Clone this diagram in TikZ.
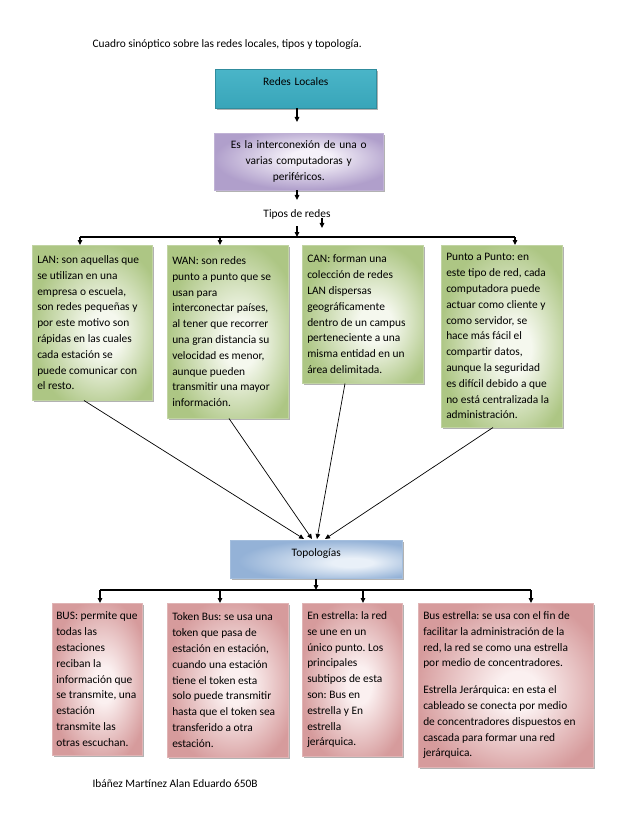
\documentclass[tikz,border=0pt]{standalone}
\usepackage{fontspec}
\setmainfont{Carlito}
\usetikzlibrary{shadows,arrows.meta,calc}
\definecolor{tealA}{HTML}{4AB5C8}
\definecolor{tealB}{HTML}{38A5B9}
\definecolor{purL}{HTML}{F5F1F9}
\definecolor{purD}{HTML}{B09FCB}
\definecolor{grnL}{HTML}{F5F8EE}
\definecolor{grnD}{HTML}{ADC684}
\definecolor{bluL}{HTML}{E9F0F8}
\definecolor{bluD}{HTML}{94B2D7}
\definecolor{redL}{HTML}{FBF0F0}
\definecolor{redD}{HTML}{D69B9C}
\pgfdeclareradialshading{grnsh}{\pgfpoint{6bp}{-4bp}}{color(0bp)=(grnL); color(7bp)=(grnL); color(28bp)=(grnD); color(50bp)=(grnD)}
\pgfdeclareradialshading{redsh}{\pgfpoint{4bp}{-2bp}}{color(0bp)=(redL); color(6bp)=(redL); color(28bp)=(redD); color(50bp)=(redD)}
\pgfdeclareradialshading{blush}{\pgfpoint{12bp}{-5bp}}{color(0bp)=(bluL); color(6bp)=(bluL); color(28bp)=(bluD); color(50bp)=(bluD)}
\pgfdeclareradialshading{pursh}{\pgfpoint{4bp}{5bp}}{color(0bp)=(purL); color(6bp)=(purL); color(27bp)=(purD); color(50bp)=(purD)}
\newcommand\fl[2]{\makebox[#1][l]{#2}}
\tikzset{
  txt/.style={font=\fontsize{11.4}{15.8}\selectfont\frenchspacing},
  box/.style={txt, anchor=north west, inner xsep=5pt, inner ysep=0pt,
    drop shadow={shadow xshift=1.5pt,shadow yshift=-2pt,opacity=0.3,fill=black}},
  tealbox/.style={box, top color=tealA, bottom color=tealB, draw=tealB!85!black, line width=0.5pt},
  purbox/.style={box, shade, shading=pursh, draw=purD!80!white, line width=0.5pt},
  grnbox/.style={box, shade, shading=grnsh, align=left, draw=grnD!75!white, line width=0.5pt},
  redbox/.style={box, shade, shading=redsh, align=left, draw=redD!75!white, line width=0.5pt},
  blubox/.style={box, shade, shading=blush, draw=bluD!85!white, line width=0.5pt},
  conn/.style={line width=1.1pt, -{Triangle[length=5pt,width=4.5pt]}},
  plain/.style={line width=1.1pt},
  diag/.style={line width=0.7pt, -{Triangle[length=5pt,width=4.5pt]}}
}
\begin{document}
\begin{tikzpicture}[x=1pt,y=-1pt]
\fill[white] (0,0) rectangle (638,826);
\useasboundingbox (0,0) rectangle (638,826);

\node[txt,anchor=west] (title) at (89,45) {Cuadro sinóptico sobre las redes locales, tipos y topología.};

\node[tealbox,align=center,text width=151pt,minimum height=39pt,text height=12pt,text depth=19pt,inner ysep=4pt] (redes) at (215,69) {Redes Locales};

\node[purbox,align=center,text width=159pt,minimum height=57pt] (def) at (214,133) {Es la interconexión de una o\\varias computadoras y\\periféricos.};

\node[txt] (tipos) at (297,214) {Tipos de redes};

% green boxes
\node[grnbox,minimum width=120pt,minimum height=155pt] (lan) at (32,245) {\fl{110pt}{LAN: son aquellas que}\\se utilizan en una\\empresa o escuela,\\son redes pequeñas y\\por este motivo son\\rápidas en las cuales\\cada estación se\\puede comunicar con\\el resto.};
\node[grnbox,minimum width=121pt,minimum height=173pt] (wan) at (167,245) {\fl{111pt}{WAN: son redes}\\punto a punto que se\\usan para\\interconectar países,\\al tener que recorrer\\una gran distancia su\\velocidad es menor,\\aunque pueden\\transmitir una mayor\\información.};
\node[grnbox,minimum width=121pt,minimum height=138pt] (can) at (302,245) {\fl{111pt}{CAN: forman una}\\colección de redes\\LAN dispersas\\geográficamente\\dentro de un campus\\perteneciente a una\\misma entidad en un\\área delimitada.};
\node[grnbox,minimum width=121pt,minimum height=182pt] (pap) at (441,245) {\fl{111pt}{Punto a Punto: en}\\este tipo de red, cada\\computadora puede\\actuar como cliente y\\como servidor, se\\hace más fácil el\\compartir datos,\\aunque la seguridad\\es difícil debido a que\\no está centralizada la\\administración.};

\node[blubox,align=center,text width=162pt,minimum height=38pt,text height=12pt,text depth=18pt,inner ysep=4pt] (topo) at (230,540) {Topologías};

% red boxes
\node[redbox,inner xsep=4pt,minimum width=90pt,minimum height=152pt] (bus) at (52,603) {\fl{82pt}{BUS: permite que}\\todas las\\estaciones\\reciban la\\información que\\se transmite, una\\estación\\transmite las\\otras escuchan.};
\node[redbox,minimum width=121pt,minimum height=154pt] (tok) at (167,603) {\fl{111pt}{Token Bus: se usa una}\\token que pasa de\\estación en estación,\\cuando una estación\\tiene el token esta\\solo puede transmitir\\hasta que el token sea\\transferido a otra\\estación.};
\node[redbox,minimum width=100pt,minimum height=153pt] (est) at (302,603) {\fl{90pt}{En estrella: la red}\\se une en un\\único punto. Los\\principales\\subtipos de esta\\son: Bus en\\estrella y En\\estrella\\jerárquica.};
\node[redbox,minimum width=175pt,minimum height=164pt] (bes) at (418,603) {\fl{165pt}{Bus estrella: se usa con el fin de}\\facilitar la administración de la\\red, la red se como una estrella\\por medio de concentradores.\\[11pt]Estrella Jerárquica: en esta el\\cableado se conecta por medio\\de concentradores dispuestos en\\cascada para formar una red\\jerárquica.};

\node[txt,anchor=west] (foot) at (89,784) {Ibáñez Martínez Alan Eduardo 650B};

% top connectors
\coordinate (r1) at (297,122);
\draw[conn] (r1 |- redes.south) -- (r1);
\coordinate (d1) at (297,200);
\draw[conn] (d1 |- def.south) -- (d1);
\coordinate (hC) at (297,237);
\coordinate (hL) at (80,237);
\coordinate (hW) at (220,237);
\coordinate (hR) at (515,237);
\draw[conn] ($(tipos.south)+(0,4)$) -- (hC);
\coordinate (s1) at (322,218);
\coordinate (s2) at (322,228);
\draw[conn] (s1) -- (s2);
\draw[plain] (hL) -- (hR);
\draw[conn] (hL) -- (lan.north -| hL);
\draw[conn] (hW) -- (wan.north -| hW);
\draw[conn] (hR) -- (pap.north -| hR);

% diagonals to Topologias
\draw[diag] ($(lan.south west)+(52,0)$) -- ($(topo.north west)+(74,-1)$);
\draw[diag] ($(wan.south west)+(62,0)$) -- ($(topo.north west)+(82,-1)$);
\draw[diag] ($(can.south west)+(43,0)$) -- ($(topo.north west)+(87,-1)$);
\draw[diag] ($(pap.south west)+(52,0)$) -- ($(topo.north west)+(95,-1)$);

% bottom connectors
\coordinate (t1) at (316,590);
\coordinate (bL) at (100,590);
\coordinate (bT) at (220,590);
\coordinate (bE) at (363,590);
\coordinate (bR) at (531,590);
\draw[conn] (t1 |- topo.south) -- (t1);
\draw[plain] (bL) -- (bR);
\draw[conn] (bL) -- (bus.north -| bL);
\draw[conn] (bT) -- (tok.north -| bT);
\draw[conn] (bE) -- (est.north -| bE);
\draw[conn] (bR) -- (bes.north -| bR);
\end{tikzpicture}
\end{document}
